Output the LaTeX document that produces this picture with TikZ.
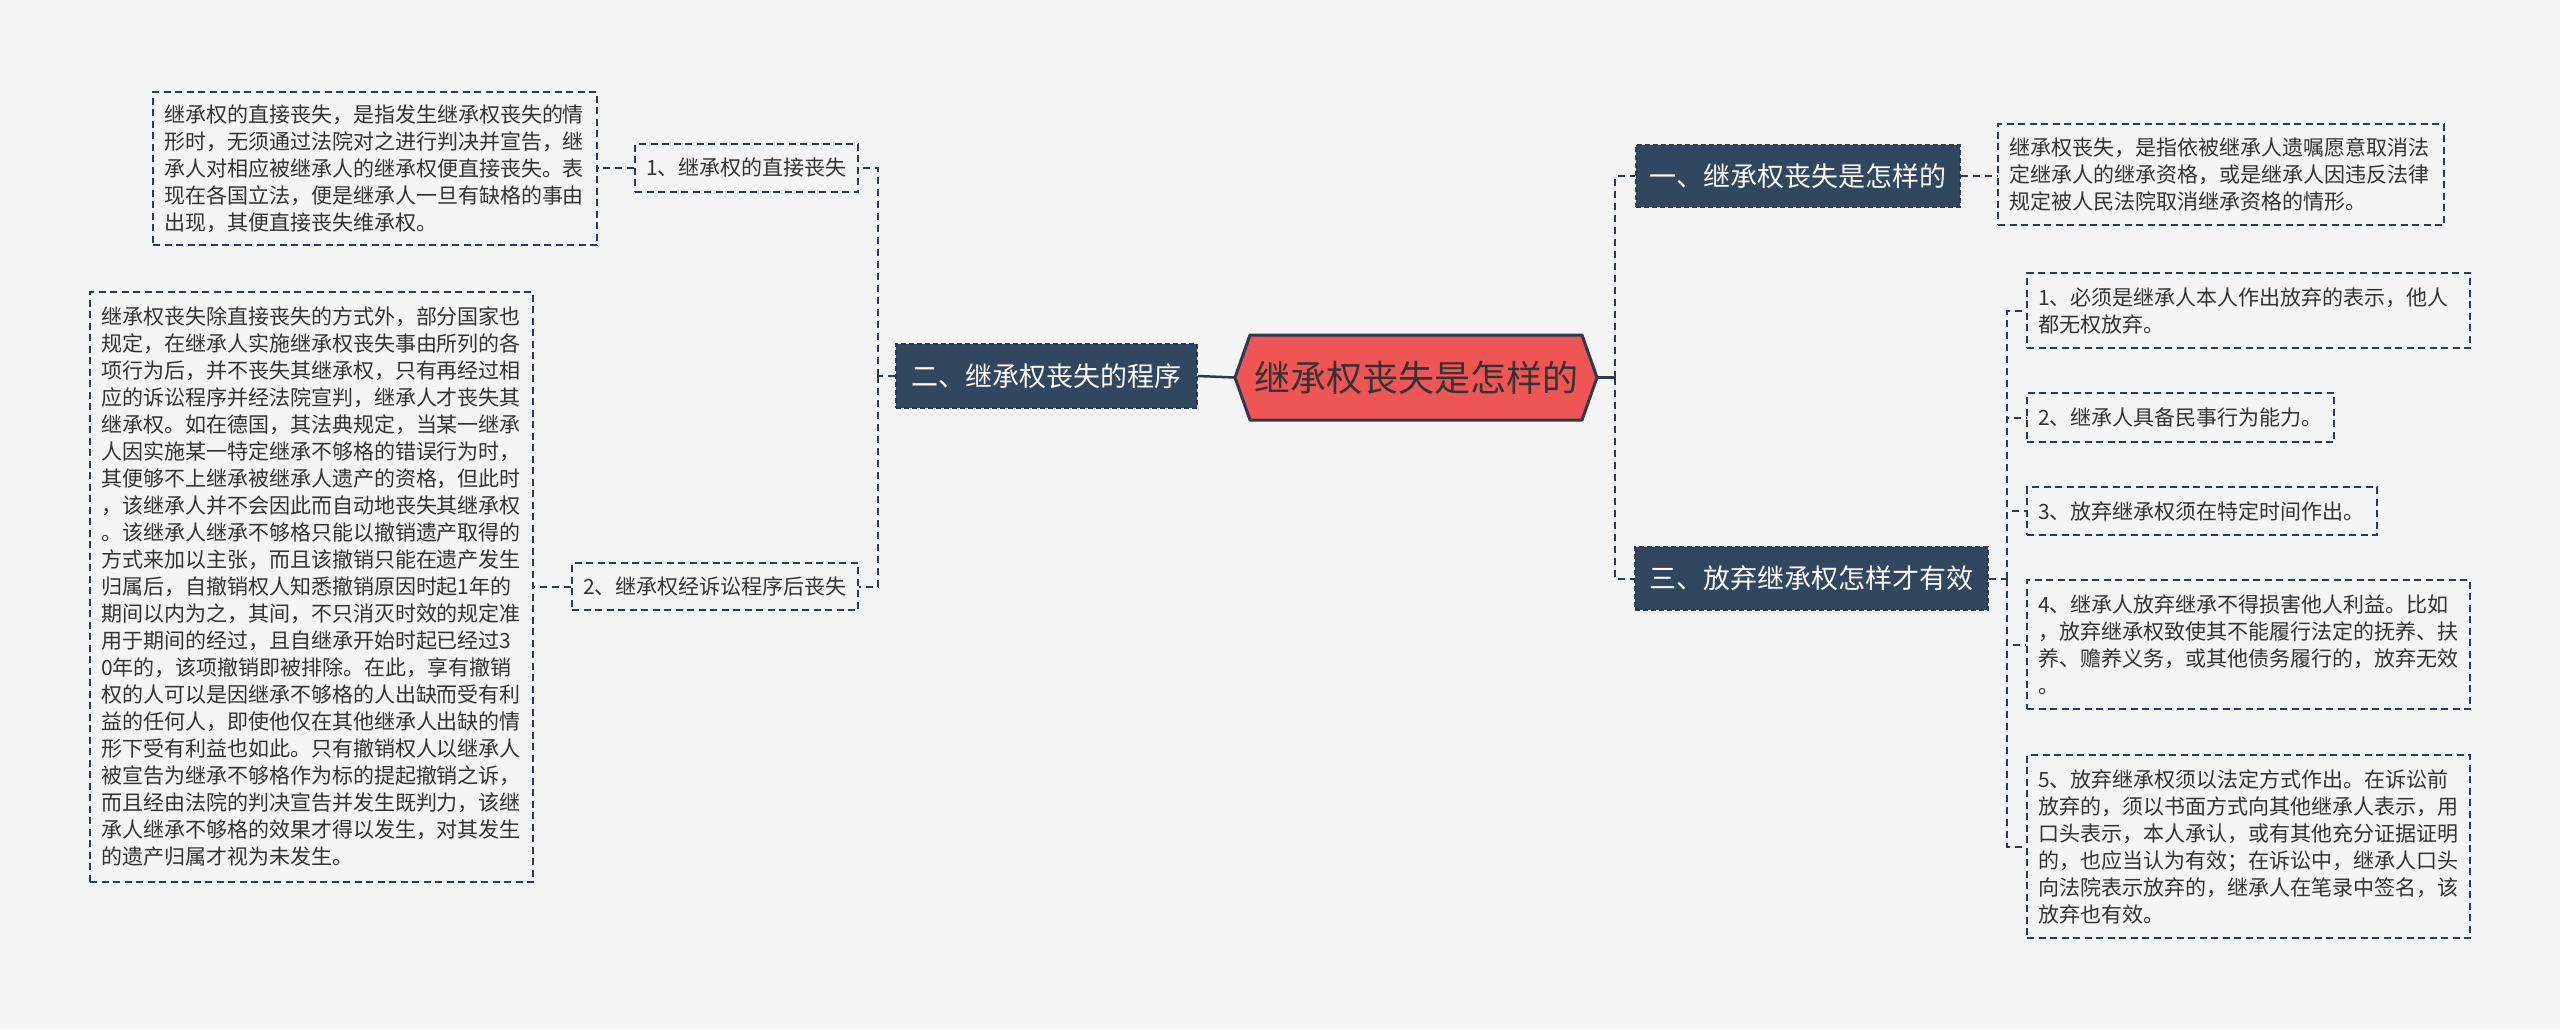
\documentclass[tikz,border=0pt]{standalone}
\usepackage{fontspec}
\setmainfont{Noto Sans CJK SC}
\definecolor{bgc}{HTML}{F5F5F5}
\definecolor{linec}{HTML}{2E3B4E}
\definecolor{darkc}{HTML}{30475F}
\definecolor{redc}{HTML}{F05556}
\definecolor{textc}{HTML}{333333}
\tikzset{
  leaf/.style={draw=linec, line width=1.5pt, dash pattern=on 7pt off 4.5pt, text=textc,
    font=\fontsize{21}{27}\selectfont, align=left, inner xsep=11pt, inner ysep=0pt},
  branch/.style={draw=linec, line width=1.5pt, dash pattern=on 5pt off 3pt, fill=darkc, text=white,
    font=\fontsize{27}{32}\selectfont, inner sep=0pt},
  conn/.style={draw=linec, line width=2pt, dash pattern=on 7pt off 5pt},
  solidconn/.style={draw=linec, line width=2.5pt}
}
\begin{document}
\begin{tikzpicture}[x=1pt,y=-1pt]
\fill[bgc] (0,0) rectangle (2560,1029);
\useasboundingbox (0,0) rectangle (2560,1029);

% central hexagon
\filldraw[fill=redc, draw=linec, line width=3pt, line join=round]
  (1235,377.5) -- (1250,335) -- (1582,335) -- (1597,377.5) -- (1582,420) -- (1250,420) -- cycle;
\node[minimum width=362pt, minimum height=85pt, inner sep=0pt, font=\fontsize{36}{42}\selectfont, text=textc] (c) at (1416,377.5) {继承权丧失是怎样的};

% branches
\node[branch, minimum width=301pt, minimum height=64pt] (er) at (1046.5,376) {二、继承权丧失的程序};
\node[branch, minimum width=324pt, minimum height=62pt] (yi) at (1798,176) {一、继承权丧失是怎样的};
\node[branch, minimum width=353pt, minimum height=63pt] (san) at (1811.5,578.5) {三、放弃继承权怎样才有效};

% left children
\node[leaf, text width=201pt, minimum height=48pt] (k1) at (746.5,168) {1、继承权的直接丧失};
\node[leaf, text width=264pt, minimum height=47pt] (k2) at (715,586.5) {2、继承权经诉讼程序后丧失};
\node[leaf, text width=422pt, minimum height=153pt] (t1) at (375,168.5) {继承权的直接丧失，是指发生继承权丧失的情\\形时，无须通过法院对之进行判决并宣告，继\\承人对相应被继承人的继承权便直接丧失。表\\现在各国立法，便是继承人一旦有缺格的事由\\出现，其便直接丧失维承权。};
\node[leaf, text width=421pt, minimum height=590pt] (t2) at (311.5,587) {继承权丧失除直接丧失的方式外，部分国家也\\规定，在继承人实施继承权丧失事由所列的各\\项行为后，并不丧失其继承权，只有再经过相\\应的诉讼程序并经法院宣判，继承人才丧失其\\继承权。如在德国，其法典规定，当某一继承\\人因实施某一特定继承不够格的错误行为时，\\其便够不上继承被继承人遗产的资格，但此时\\，该继承人并不会因此而自动地丧失其继承权\\。该继承人继承不够格只能以撤销遗产取得的\\方式来加以主张，而且该撤销只能在遗产发生\\归属后，自撤销权人知悉撤销原因时起1年的\\期间以内为之，其间，不只消灭时效的规定准\\用于期间的经过，且自继承开始时起已经过3\\0年的，该项撤销即被排除。在此，享有撤销\\权的人可以是因继承不够格的人出缺而受有利\\益的任何人，即使他仅在其他继承人出缺的情\\形下受有利益也如此。只有撤销权人以继承人\\被宣告为继承不够格作为标的提起撤销之诉，\\而且经由法院的判决宣告并发生既判力，该继\\承人继承不够格的效果才得以发生，对其发生\\的遗产归属才视为未发生。};

% right children
\node[leaf, text width=424pt, minimum height=101pt] (d1) at (2221,174.5) {继承权丧失，是指依被继承人遗嘱愿意取消法\\定继承人的继承资格，或是继承人因违反法律\\规定被人民法院取消继承资格的情形。};
\node[leaf, text width=421pt, minimum height=75pt] (i1) at (2248.5,310.5) {1、必须是继承人本人作出放弃的表示，他人\\都无权放弃。};
\node[leaf, text width=285pt, minimum height=49pt] (i2) at (2180.5,417.5) {2、继承人具备民事行为能力。};
\node[leaf, text width=328pt, minimum height=48pt] (i3) at (2202,511) {3、放弃继承权须在特定时间作出。};
\node[leaf, text width=421pt, minimum height=129pt] (i4) at (2248.5,644.5) {4、继承人放弃继承不得损害他人利益。比如\\，放弃继承权致使其不能履行法定的抚养、扶\\养、赡养义务，或其他债务履行的，放弃无效\\。};
\node[leaf, text width=421pt, minimum height=183pt] (i5) at (2248.5,846.5) {5、放弃继承权须以法定方式作出。在诉讼前\\放弃的，须以书面方式向其他继承人表示，用\\口头表示，本人承认，或有其他充分证据证明\\的，也应当认为有效；在诉讼中，继承人口头\\向法院表示放弃的，继承人在笔录中签名，该\\放弃也有效。};

% connectors
\coordinate (lsp) at (878,376);
\coordinate (rsp) at (1615,377.5);
\coordinate (ssp) at (2007,578.5);

\draw[solidconn] (c.west) -- (er.east);
\draw[solidconn] (c.east) -- (rsp);

\draw[conn] (er.west) -- (lsp);
\draw[conn] (lsp) |- (k1.east);
\draw[conn] (lsp) |- (k2.east);
\draw[conn] (k1.west) -- (k1.west -| t1.east);
\draw[conn] (k2.west) -- (k2.west -| t2.east);

\draw[conn] (rsp) |- (yi.west);
\draw[conn] (rsp) |- (san.west);
\draw[conn] (yi.east) -- (yi.east -| d1.west);

\draw[conn] (san.east) -- (ssp);
\draw[conn] (ssp) |- (i1.west);
\draw[conn] (ssp) |- (i2.west);
\draw[conn] (ssp) |- (i3.west);
\draw[conn] (ssp) |- (i4.west);
\draw[conn] (ssp) |- (i5.west);
\end{tikzpicture}
\end{document}
